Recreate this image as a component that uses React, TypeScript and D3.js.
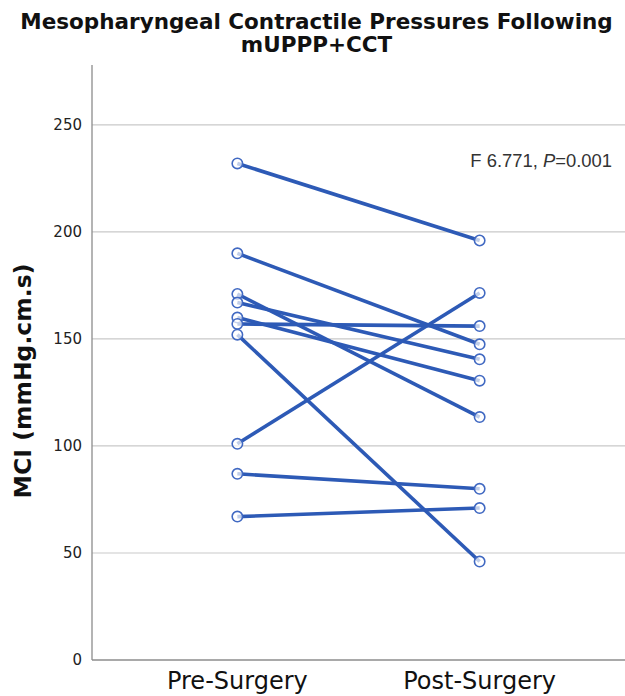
import React, { useRef, useEffect } from 'react';
import * as d3 from 'd3';

const groups = ['Pre-Surgery', 'Post-Surgery'];
const preValues = [232, 190, 171, 167, 160, 157, 152, 101, 87, 67];
const postValues = [196, 147.5, 113.5, 140.5, 130.5, 156, 46, 171.5, 80, 71];
const yTicks = [0, 50, 100, 150, 200, 250];

const App = () => {
  const ref = useRef<HTMLDivElement>(null);

  const width = 625;
  const height = 696;
  const left = 92;
  const top = 65;
  const bottom = 660;
  const blue = '#2d5ab6';

  useEffect(() => {
    d3.select(ref.current).select('svg').remove();

    const svg = d3.select(ref.current).append('svg')
      .attr('width', width)
      .attr('height', height)
      .style('display', 'block');

    const x = d3.scalePoint<string>().domain(groups).range([left, width]).padding(0.6);
    const y = d3.scaleLinear().domain([0, 278]).range([bottom, top]);

    // grid
    svg.append('g')
      .selectAll('line')
      .data(yTicks.filter(t => t > 0))
      .enter().append('line')
      .attr('x1', left).attr('x2', width)
      .attr('y1', d => y(d)).attr('y2', d => y(d))
      .attr('stroke', '#c9c9c9').attr('stroke-width', 1.2);

    // axes
    svg.append('line').attr('x1', left).attr('x2', left).attr('y1', top).attr('y2', bottom)
      .attr('stroke', '#8c8c8c').attr('stroke-width', 1.3);
    svg.append('line').attr('x1', left).attr('x2', width).attr('y1', bottom).attr('y2', bottom)
      .attr('stroke', '#8c8c8c').attr('stroke-width', 1.5);

    svg.append('g')
      .selectAll('text')
      .data(yTicks)
      .enter().append('text')
      .attr('x', left - 10)
      .attr('y', d => y(d))
      .attr('dy', '0.35em')
      .attr('text-anchor', 'end')
      .attr('font-family', 'DejaVu Sans')
      .attr('font-size', 15)
      .attr('fill', '#222')
      .text(d => d);

    svg.append('g')
      .selectAll('text')
      .data(groups)
      .enter().append('text')
      .attr('x', d => x(d) as number)
      .attr('y', 689)
      .attr('text-anchor', 'middle')
      .attr('font-family', 'DejaVu Sans')
      .attr('font-size', 24)
      .attr('fill', '#111')
      .text(d => d);

    // title
    svg.append('text')
      .attr('x', width / 2 + 4).attr('y', 29)
      .attr('text-anchor', 'middle')
      .attr('font-family', 'DejaVu Sans').attr('font-weight', 'bold')
      .attr('font-size', 21.5).attr('fill', '#111')
      .text('Mesopharyngeal Contractile Pressures Following');
    svg.append('text')
      .attr('x', width / 2 + 4).attr('y', 52)
      .attr('text-anchor', 'middle')
      .attr('font-family', 'DejaVu Sans').attr('font-weight', 'bold')
      .attr('font-size', 21.5).attr('fill', '#111')
      .text('mUPPP+CCT');

    svg.append('text')
      .attr('transform', 'translate(31,381) rotate(-90)')
      .attr('text-anchor', 'middle')
      .attr('font-family', 'DejaVu Sans').attr('font-weight', 'bold')
      .attr('font-size', 23.5).attr('fill', '#111')
      .text('MCI (mmHg.cm.s)');

    // annotation
    const ann = svg.append('text')
      .attr('x', 612).attr('y', 167)
      .attr('text-anchor', 'end')
      .attr('font-family', 'Liberation Sans')
      .attr('font-size', 18.4).attr('fill', '#333');
    ann.append('tspan').text('F 6.771, ');
    ann.append('tspan').attr('font-style', 'italic').text('P');
    ann.append('tspan').text('=0.001');

    const pairs = preValues.map((v, i) => ({ pre: v, post: postValues[i] }));

    svg.append('g')
      .selectAll('line')
      .data(pairs)
      .enter().append('line')
      .attr('x1', x(groups[0]) as number).attr('x2', x(groups[1]) as number)
      .attr('y1', d => y(d.pre)).attr('y2', d => y(d.post))
      .attr('stroke', blue).attr('stroke-width', 3.6);

    const pts = pairs.flatMap(d => [
      { g: groups[0], v: d.pre },
      { g: groups[1], v: d.post },
    ]);

    svg.append('g')
      .selectAll('circle')
      .data(pts)
      .enter().append('circle')
      .attr('cx', d => x(d.g) as number)
      .attr('cy', d => y(d.v))
      .attr('r', 5.2)
      .attr('fill', 'white')
      .attr('fill-opacity', 0.7)
      .attr('stroke', '#4169c2')
      .attr('stroke-width', 1.6);
  }, []);

  return <div ref={ref} style={{ position: 'absolute', left: 0, top: 0 }} />;
};

export default App;
